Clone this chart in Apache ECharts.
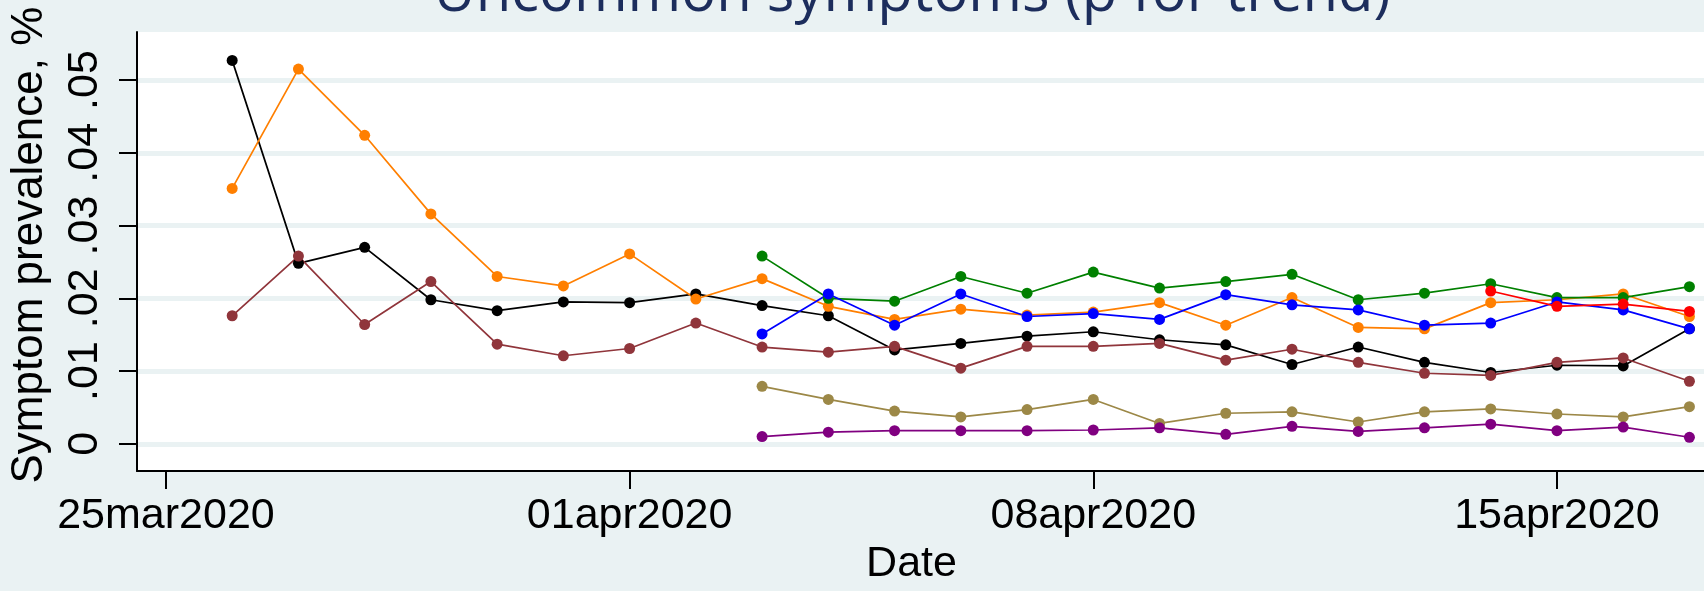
<!DOCTYPE html>
<html>
<head>
<meta charset="utf-8">
<style>
html, body { margin: 0; padding: 0; background: #eaf2f3; }
#main { width: 1704px; height: 591px; }
</style>
<script src="https://cdn.jsdelivr.net/npm/echarts@6.0.0/dist/echarts.min.js"></script>
</head>
<body>
<div id="main"></div>
<script>
// dates of the survey days
var dates = ['2020-03-26', '2020-03-27', '2020-03-28', '2020-03-29', '2020-03-30', '2020-03-31',
    '2020-04-01', '2020-04-02', '2020-04-03', '2020-04-04', '2020-04-05', '2020-04-06',
    '2020-04-07', '2020-04-08', '2020-04-09', '2020-04-10', '2020-04-11', '2020-04-12',
    '2020-04-13', '2020-04-14', '2020-04-15', '2020-04-16', '2020-04-17'];

// prevalence by symptom (null = not asked yet)
var blackVals = [0.0527, 0.0248, 0.0270, 0.0198, 0.0183, 0.0195, 0.0194, 0.0206,
    0.0190, 0.0176, 0.0129, 0.0138, 0.0148, 0.0154, 0.0143,
    0.0136, 0.0109, 0.0133, 0.0112, 0.0098, 0.0108, 0.0107, 0.0158];
var orangeVals = [0.0351, 0.0515, 0.0424, 0.0316, 0.0230, 0.0217, 0.0261, 0.0199,
    0.0227, 0.0189, 0.0171, 0.0185, 0.0177, 0.0181, 0.0194,
    0.0163, 0.0201, 0.0160, 0.0158, 0.0194, 0.0198, 0.0206, 0.0175];
var brownVals = [0.0176, 0.0258, 0.0164, 0.0223, 0.0137, 0.0121, 0.0131, 0.0166,
    0.0133, 0.0126, 0.0134, 0.0104, 0.0134, 0.0134, 0.0138,
    0.0115, 0.0130, 0.0112, 0.0097, 0.0094, 0.0112, 0.0118, 0.0086];
var greenVals = [null, null, null, null, null, null, null, null,
    0.0258, 0.0200, 0.0196, 0.0230, 0.0207, 0.0236, 0.0214,
    0.0223, 0.0233, 0.0198, 0.0207, 0.0220, 0.0201, 0.0201, 0.0216];
var blueVals = [null, null, null, null, null, null, null, null,
    0.0151, 0.0206, 0.0163, 0.0206, 0.0175, 0.0179, 0.0171,
    0.0205, 0.0191, 0.0184, 0.0163, 0.0166, 0.0195, 0.0184, 0.0158];
var khakiVals = [null, null, null, null, null, null, null, null,
    0.0079, 0.0061, 0.0045, 0.0037, 0.0047, 0.0061, 0.0028,
    0.0042, 0.0044, 0.0030, 0.0044, 0.0048, 0.0041, 0.0037, 0.0051];
var purpleVals = [null, null, null, null, null, null, null, null,
    0.0010, 0.0016, 0.0018, 0.0018, 0.0018, 0.0019, 0.0022,
    0.0013, 0.0024, 0.0017, 0.0022, 0.0027, 0.0018, 0.0023, 0.0009];
var redVals = [null, null, null, null, null, null, null, null,
    null, null, null, null, null, null, null,
    null, null, null, null, 0.0210, 0.0189, 0.0192, 0.0182];

// axis ticks
var xTickDates = ['2020-03-25', '2020-04-01', '2020-04-08', '2020-04-15'];
var xTickLabels = ['25mar2020', '01apr2020', '08apr2020', '15apr2020'];
var yTickValues = [0, 0.01, 0.02, 0.03, 0.04, 0.05];
var yTickLabels = ['0', '.01', '.02', '.03', '.04', '.05'];

var origin = Date.UTC(2020, 2, 25);
function dayOf(s) {
    var p = s.split('-');
    return (Date.UTC(+p[0], +p[1] - 1, +p[2]) - origin) / 864e5;
}
var days = dates.map(dayOf);
var xTickDays = xTickDates.map(dayOf);

function mkSeries(name, color, vals) {
    var pts = [];
    for (var i = 0; i < vals.length; i++) {
        if (vals[i] != null) pts.push([days[i], vals[i]]);
    }
    return {
        name: name,
        type: 'line',
        data: pts,
        symbol: 'circle',
        symbolSize: 11,
        showSymbol: true,
        lineStyle: { color: color, width: 1.7 },
        itemStyle: { color: color },
        emphasis: { disabled: true }
    };
}

var font = 'Liberation Sans';
var myChart = echarts.init(document.getElementById('main'));

var option = {
    backgroundColor: '#eaf2f3',
    animation: false,
    graphic: [{
        type: 'text',
        x: 912,
        y: -6,
        style: {
            text: 'Uncommon symptoms (p for trend)',
            fill: '#1c2d5c',
            fontSize: 58,
            fontFamily: 'Open Sans',
            align: 'center',
            verticalAlign: 'middle'
        }
    }],
    grid: {
        left: 136.5,
        right: 0,
        top: 32,
        bottom: 113,
        show: true,
        backgroundColor: '#ffffff',
        borderWidth: 0,
        containLabel: false
    },
    xAxis: {
        type: 'value',
        min: -0.437,
        max: 23.22,
        name: 'Date',
        nameLocation: 'middle',
        nameGap: 64,
        nameTextStyle: { fontFamily: font, fontSize: 43, color: '#000', padding: [0, 18, 0, 0] },
        axisLine: { show: true, onZero: false, lineStyle: { color: '#000', width: 2 } },
        axisTick: { show: true, length: 18, customValues: xTickDays, lineStyle: { color: '#000', width: 2 } },
        axisLabel: {
            customValues: xTickDays,
            margin: 24,
            fontFamily: font,
            fontSize: 43,
            color: '#000',
            formatter: function (v) {
                for (var i = 0; i < xTickDays.length; i++) {
                    if (Math.abs(xTickDays[i] - v) < 1e-6) return xTickLabels[i];
                }
                return '';
            }
        },
        splitLine: { show: false }
    },
    yAxis: {
        type: 'value',
        min: -0.00375,
        max: 0.0566,
        name: 'Symptom prevalence, %',
        nameLocation: 'middle',
        nameRotate: 90,
        nameGap: 85,
        nameTextStyle: { fontFamily: font, fontSize: 44, color: '#000', padding: [0, 0, 0, 13] },
        axisLine: { show: true, onZero: false, lineStyle: { color: '#000', width: 2 } },
        axisTick: { show: true, length: 18, customValues: yTickValues, lineStyle: { color: '#000', width: 2 } },
        axisLabel: {
            customValues: yTickValues,
            rotate: 90,
            margin: 30,
            fontFamily: font,
            fontSize: 43,
            color: '#000',
            formatter: function (v) {
                for (var i = 0; i < yTickValues.length; i++) {
                    if (Math.abs(yTickValues[i] - v) < 1e-9) return yTickLabels[i];
                }
                return '';
            }
        },
        splitLine: { show: true, lineStyle: { color: '#eaf2f3', width: 5 } }
    },
    series: [
        mkSeries('black', '#000000', blackVals),
        mkSeries('orange', '#ff7f00', orangeVals),
        mkSeries('brown', '#90353b', brownVals),
        mkSeries('green', '#008000', greenVals),
        mkSeries('blue', '#0000ff', blueVals),
        mkSeries('khaki', '#9c8847', khakiVals),
        mkSeries('purple', '#800080', purpleVals),
        mkSeries('red', '#ff0000', redVals)
    ]
};

myChart.setOption(option);
</script>
</body>
</html>
